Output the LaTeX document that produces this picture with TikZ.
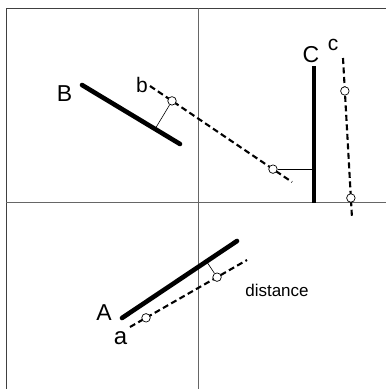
\documentclass[tikz,border=0pt]{standalone}
\usepackage{fontspec}
\setmainfont{Liberation Sans}
\usetikzlibrary{calc}
\begin{document}
\begin{tikzpicture}[x=1pt,y=-1pt,
  axis/.style={draw=black!60,line width=0.7pt},
  frame/.style={draw=black!75,line width=0.9pt},
  bar/.style={line width=4.6pt,line cap=round},
  proj/.style={line width=2.1pt,dash pattern=on 6pt off 3.5pt},
  conn/.style={line width=0.6pt},
  pt/.style={circle,draw,fill=white,line width=0.7pt,inner sep=0pt,minimum size=8.5pt},
  big/.style={font=\fontsize{23}{23}\selectfont,inner sep=0pt},
  small/.style={font=\fontsize{21}{21}\selectfont,inner sep=0pt}]
\useasboundingbox (0,0) rectangle (386,389);
% frame and axes
\coordinate (ftl) at (6,8);
\coordinate (fbl) at (6,389);
\coordinate (ftr) at (386,8);
\draw[frame] (fbl) -- (ftl) -- (ftr);
\coordinate (vt) at (198,8);
\coordinate (vb) at (198,389);
\coordinate (hl) at (6,202);
\coordinate (hr) at (386,202);
\draw[axis] (vt) -- (vb);
\draw[axis] (hl) -- (hr);
% segment B and its projection b
\coordinate (B0) at (82,85);
\coordinate (B1) at (180,144);
\coordinate (b0) at (150,86);
\coordinate (b1) at (292,182);
\draw[proj] (b0) -- (b1);
\node[pt] (bp1) at ($(b0)!0.155!(b1)$) {};
\node[pt] (bp2) at ($(b0)!0.866!(b1)$) {};
\coordinate (Bf) at ($(B0)!(bp1)!(B1)$);
\draw[conn] (Bf) -- (bp1);
\draw[bar] (B0) -- (B1);
% segment C and its projection c
\coordinate (C0) at (314,66);
\coordinate (C1) at (314,203);
\coordinate (c0) at (343,58);
\coordinate (c1) at (352,218);
\draw[proj] (c0) -- (c1);
\node[pt] (cp1) at ($(c0)!0.206!(c1)$) {};
\node[pt] (cp2) at ($(c0)!0.875!(c1)$) {};
\draw[conn] (bp2) -- (bp2 -| C0);
\draw[bar,line cap=butt] (C0) -- (C1);
% segment A and its projection a
\coordinate (A0) at (122,318);
\coordinate (A1) at (237,241);
\coordinate (a0) at (130,327);
\coordinate (a1) at (247,260);
\draw[proj] (a0) -- (a1);
\node[pt] (ap1) at ($(a0)!0.137!(a1)$) {};
\node[pt] (ap2) at ($(a0)!0.744!(a1)$) {};
\coordinate (Af) at ($(A0)!(ap2)!(A1)$);
\draw[conn] (Af) -- (ap2);
\draw[bar] (A0) -- (A1);
% labels
\node[big] (lB) at (64.5,94) {B};
\node[small] (lb) at (142,84.5) {b};
\node[big] (lC) at (311,55) {C};
\node[small] (lc) at (333,45) {c};
\node[big] (lA) at (104,313) {A};
\node[font=\fontsize{24}{24}\selectfont,inner sep=0pt] (la) at (120.5,338) {a};
\node[font=\fontsize{17}{17}\selectfont,inner sep=0pt] (ld) at (277,290) {distance};
\end{tikzpicture}
\end{document}
